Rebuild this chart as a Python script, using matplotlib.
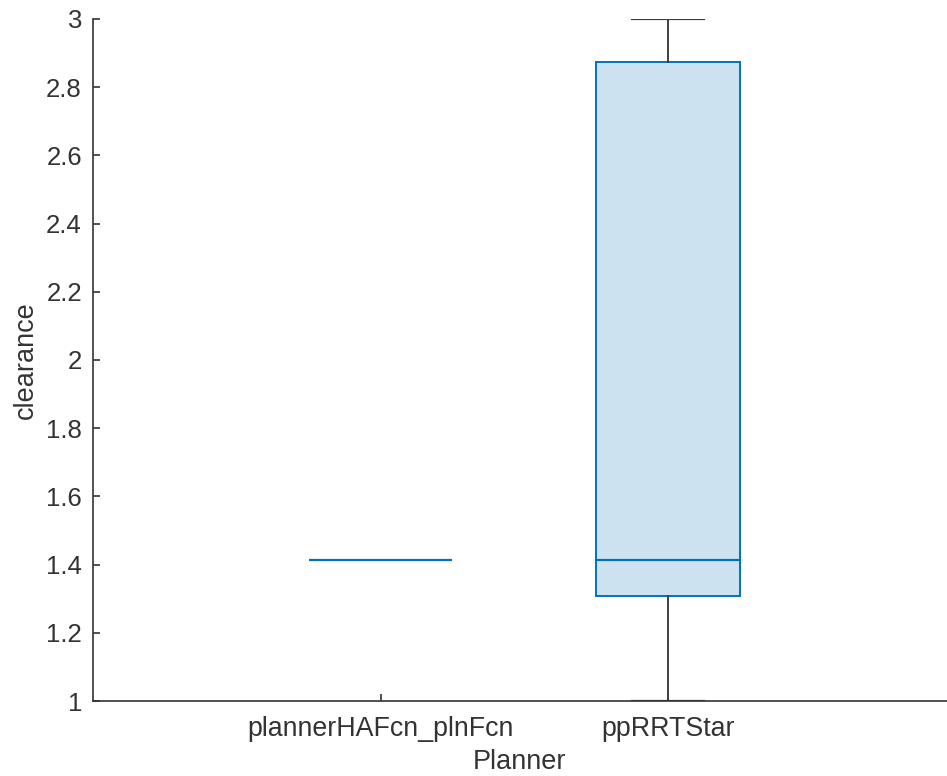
import matplotlib.pyplot as plt

# Box statistics
planners = ["plannerHAFcn_plnFcn", "ppRRTStar"]
q1 = [1.4142, 1.308]
median = [1.4142, 1.4142]
q3 = [1.4142, 2.874]
whislo = [1.4142, 1.0]
whishi = [1.4142, 3.0]

stats = []
for i in range(len(planners)):
    stats.append({
        "label": planners[i],
        "q1": q1[i],
        "med": median[i],
        "q3": q3[i],
        "whislo": whislo[i],
        "whishi": whishi[i],
        "fliers": [],
    })

plt.rcParams["font.family"] = ["Liberation Sans", "DejaVu Sans"]

blue = "#0072BD"
axis_col = "#333333"

fig = plt.figure(figsize=(9.47, 7.76), dpi=100)
ax = fig.add_axes([0.0982, 0.0966, 0.9018, 0.879])

parts = ax.bxp(
    stats,
    positions=[1, 2],
    widths=0.5,
    patch_artist=True,
    showfliers=False,
    boxprops=dict(facecolor=(0 / 255, 114 / 255, 189 / 255, 0.2), edgecolor=blue, linewidth=1.4),
    medianprops=dict(color=blue, linewidth=1.6, zorder=5),
    whiskerprops=dict(color="#404040", linewidth=1.4),
    capprops=dict(color="#404040", linewidth=1.6),
    capwidths=0.25,
)

# the first planner has no spread, so only its blue median line shows
for line in parts["caps"][:2] + parts["whiskers"][:2]:
    line.set_visible(False)

ax.set_xlim(0, 2.97)
ax.set_ylim(1, 3)
ax.set_yticks([1, 1.2, 1.4, 1.6, 1.8, 2, 2.2, 2.4, 2.6, 2.8, 3])
ax.set_yticklabels(["1", "1.2", "1.4", "1.6", "1.8", "2", "2.2", "2.4", "2.6", "2.8", "3"])
ax.set_xticks([1, 2])
ax.set_xticklabels(planners)

for s in ["top", "right"]:
    ax.spines[s].set_visible(False)
for s in ["left", "bottom"]:
    ax.spines[s].set_color(axis_col)
    ax.spines[s].set_linewidth(1.2)

ax.tick_params(direction="in", length=5, width=1.2, colors=axis_col, labelsize=18.5)
ax.tick_params(axis="y", pad=8)
ax.tick_params(axis="x", pad=11, labelsize=19.3)

ax.set_xlabel("Planner", fontsize=19.5, color=axis_col, labelpad=5)
ax.set_ylabel("clearance", fontsize=19.5, color=axis_col, labelpad=5)

fig.savefig("out.png", dpi=100)
